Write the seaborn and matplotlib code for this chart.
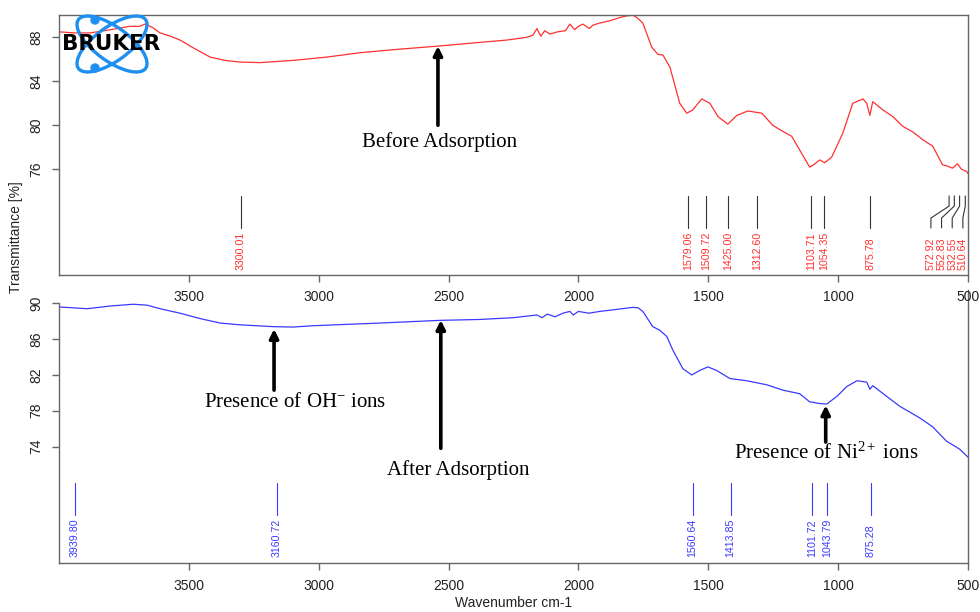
import numpy as np
import pandas as pd
import matplotlib
matplotlib.use("Agg")
import matplotlib.pyplot as plt
import seaborn as sns
from matplotlib.patches import Ellipse, Circle
from matplotlib.transforms import blended_transform_factory

# ---------------- data ----------------
before_wn = [4000, 3940, 3880, 3800, 3727, 3690, 3669, 3640, 3611, 3570, 3534, 3480, 3418, 3360,
             3303, 3226, 3099, 2970, 2841, 2700, 2541, 2400, 2276, 2199, 2175, 2160, 2145, 2130,
             2110, 2080, 2050, 2033, 2015, 2000, 1983, 1957, 1945, 1918, 1880, 1840, 1814, 1790,
             1775, 1752, 1718, 1694, 1675, 1648, 1610, 1583, 1560, 1525, 1494, 1463, 1425, 1390,
             1348, 1294, 1252, 1217, 1179, 1148, 1110, 1095, 1071, 1052, 1025, 982, 944, 905,
             890, 878, 867, 828, 790, 751, 713, 675, 636, 598, 580, 560, 541, 525, 505, 500]
before_t = [88.5, 88.4, 88.4, 88.7, 89.0, 89.0, 89.2, 88.9, 88.4, 88.1, 87.75, 87.0, 86.2, 85.9,
            85.75, 85.7, 85.9, 86.2, 86.6, 86.9, 87.2, 87.5, 87.75, 88.0, 88.2, 88.8, 88.1, 88.6,
            88.3, 88.5, 88.6, 89.2, 88.7, 89.0, 89.2, 88.8, 89.1, 89.3, 89.5, 89.8, 89.95, 90.0,
            89.8, 89.3, 87.1, 86.45, 86.4, 85.3, 82.0, 81.1, 81.4, 82.4, 82.0, 80.8, 80.1, 80.9,
            81.3, 81.1, 80.0, 79.5, 79.0, 77.75, 76.2, 76.4, 76.85, 76.6, 77.1, 79.3, 82.0, 82.4,
            82.0, 80.9, 82.15, 81.4, 80.8, 79.9, 79.4, 78.7, 78.1, 76.4, 76.3, 76.1, 76.5, 76.0,
            75.8, 75.6]

after_wn = [4000, 3892, 3804, 3715, 3661, 3611, 3534, 3457, 3380, 3303, 3176, 3100, 3022, 2764,
            2534, 2380, 2250, 2160, 2140, 2120, 2090, 2060, 2033, 2020, 2000, 1960, 1918, 1860,
            1791, 1770, 1752, 1714, 1687, 1660, 1637, 1598, 1564, 1533, 1502, 1468, 1417, 1352,
            1275, 1213, 1148, 1110, 1071, 1044, 1005, 967, 928, 890, 878, 867, 813, 763, 686,
            636, 583, 532, 500]
after_t = [89.6, 89.4, 89.7, 89.9, 89.8, 89.4, 88.9, 88.3, 87.8, 87.6, 87.4, 87.35, 87.5, 87.8,
           88.1, 88.2, 88.4, 88.7, 88.4, 88.8, 88.5, 88.9, 89.1, 88.7, 89.1, 88.9, 89.1, 89.3,
           89.55, 89.5, 89.1, 87.4, 87.0, 86.3, 84.8, 82.7, 82.0, 82.5, 82.9, 82.5, 81.6, 81.35,
           80.9, 80.3, 79.9, 79.0, 78.8, 78.75, 79.6, 80.7, 81.35, 81.2, 80.4, 80.8, 79.6, 78.5,
           77.2, 76.2, 74.6, 73.7, 72.8]

before_peaks = [3300.01, 1579.06, 1509.72, 1425.00, 1312.60, 1103.71, 1054.35, 875.78,
                572.92, 552.83, 532.55, 510.64]
after_peaks = [3939.80, 3160.72, 1560.64, 1413.85, 1101.72, 1043.79, 875.28]

x_ticks = [3500, 3000, 2500, 2000, 1500, 1000, 500]
top_yticks = [76, 80, 84, 88]
bottom_yticks = [74, 78, 82, 86, 90]

# ---------------- style ----------------
sns.set_theme(style="white")
plt.rcParams["font.family"] = ["Liberation Sans", "DejaVu Sans"]
plt.rcParams["mathtext.fontset"] = "custom"
plt.rcParams["mathtext.rm"] = "Liberation Serif"
plt.rcParams["mathtext.it"] = "Liberation Serif:italic"

RED = "#ff3030"
BLUE = "#3a3aff"
SPINE = "#666666"
TXT = "#222222"

fig = plt.figure(figsize=(9.8, 6.12), dpi=100)
ax2 = fig.add_axes([0.0602, 0.0796, 0.9276, 0.4465])
ax1 = fig.add_axes([0.0602, 0.5507, 0.9276, 0.4248])
ax2.patch.set_alpha(0)
ax1.patch.set_alpha(0)

df_b = pd.DataFrame({"wn": before_wn, "T": before_t})
df_a = pd.DataFrame({"wn": after_wn, "T": after_t})
sns.lineplot(data=df_b, x="wn", y="T", ax=ax1, color=RED, lw=0.9, estimator=None, sort=False)
sns.lineplot(data=df_a, x="wn", y="T", ax=ax2, color=BLUE, lw=0.9, estimator=None, sort=False)

for ax, yt, ylim in [(ax1, top_yticks, (66.39, 90.03)), (ax2, bottom_yticks, (60.95, 91.49))]:
    ax.set_xlim(4000, 500)
    ax.set_ylim(*ylim)
    ax.set_xticks(x_ticks)
    ax.set_xticklabels([str(t) for t in x_ticks])
    ax.set_yticks(yt)
    ax.set_yticklabels([str(t) for t in yt], rotation=90, va="center")
    ax.set_xlabel("")
    ax.set_ylabel("")
    ax.tick_params(axis="both", which="major", direction="out", length=5, width=1,
                   color=SPINE, labelcolor=TXT, labelsize=10, pad=6,
                   bottom=True, left=True)
    for s in ax.spines.values():
        s.set_color(SPINE)
        s.set_linewidth(1)

ax2.spines["top"].set_visible(False)
ax2.spines["left"].set_bounds(60.95, 90)


def spread(peaks, min_sep, right_limit):
    order = sorted(peaks)
    pos = {}
    last = None
    for w in order:
        p = max(w, right_limit) if last is None else max(w, last + min_sep)
        pos[w] = p
        last = p
    return [pos[w] for w in peaks]


def draw_peaks(ax, peaks, line_color, text_color, fr):
    tr = blended_transform_factory(ax.transData, ax.transAxes)
    lab_pos = spread(peaks, 41, 520)
    y_top, y_k1, y_k2, y_bot, y_lab = fr
    for w, p in zip(peaks, lab_pos):
        ax.plot([w, w, p, p], [y_top, y_k1, y_k2, y_bot], transform=tr,
                color=line_color, lw=0.8, clip_on=False)
        ax.text(p, y_lab, f"{w:.2f}", transform=tr, rotation=90, ha="center",
                va="bottom", fontsize=7.7, color=text_color)


draw_peaks(ax1, before_peaks, "#333333", RED, (0.304, 0.265, 0.219, 0.181, 0.019))
draw_peaks(ax2, after_peaks, BLUE, BLUE, (0.293, 0.262, 0.215, 0.177, 0.023))

serif = ["Liberation Serif", "DejaVu Serif"]
arrow = dict(arrowstyle="-|>", color="black", lw=2.6, mutation_scale=13, shrinkA=0, shrinkB=0)

ax1.annotate("", xy=(2541, 87.2), xytext=(2541, 80.0), arrowprops=arrow)
ax1.text(2536, 78.5, "Before Adsorption", ha="center", va="center", fontsize=15,
         family=serif, color="black")

ax2.annotate("", xy=(3172, 87.13), xytext=(3172, 80.3), arrowprops=arrow)
ax2.text(3092, 78.9, r"Presence of OH$^{\mathrm{-}}$ ions", ha="center", va="center",
         fontsize=15, family=serif, color="black")

ax2.annotate("", xy=(2530, 88.13), xytext=(2530, 73.8), arrowprops=arrow)
ax2.text(2464, 71.4, "After Adsorption", ha="center", va="center", fontsize=15,
         family=serif, color="black")

ax2.annotate("", xy=(1048, 78.6), xytext=(1048, 74.5), arrowprops=arrow)
ax2.text(1044, 73.2, r"Presence of Ni$^{2+}$ ions", ha="center", va="center", fontsize=15,
         family=serif, color="black")

# axis titles
fig.text(16 / 980, 1 - 237 / 612, "Transmittance [%]", rotation=90, ha="center", va="center",
         fontsize=10, color=TXT)
fig.text(514 / 980, 1 - 603 / 612, "Wavenumber cm-1", ha="center", va="center",
         fontsize=10, color=TXT)

# Bruker logo
W, H = 980, 612
logo_blue = "#1f8fef"
for ang in (36, -36):
    e = Ellipse((112 / 100, (H - 44) / 100), 0.83, 0.34, angle=ang, fill=False,
                ec=logo_blue, lw=2.4, transform=fig.dpi_scale_trans, zorder=10)
    fig.patches.append(e)
for (dx, dy) in [(95, 20), (95, 68)]:
    c = Circle((dx / 100, (H - dy) / 100), 0.04, color=logo_blue, transform=fig.dpi_scale_trans,
               zorder=11)
    fig.patches.append(c)
fig.text(111 / W, 1 - 44 / H, "BRUKER", ha="center", va="center", fontsize=15.5,
         fontweight="heavy", family=["DejaVu Sans"], color="black", zorder=12)

fig.savefig("out.png", dpi=100)
